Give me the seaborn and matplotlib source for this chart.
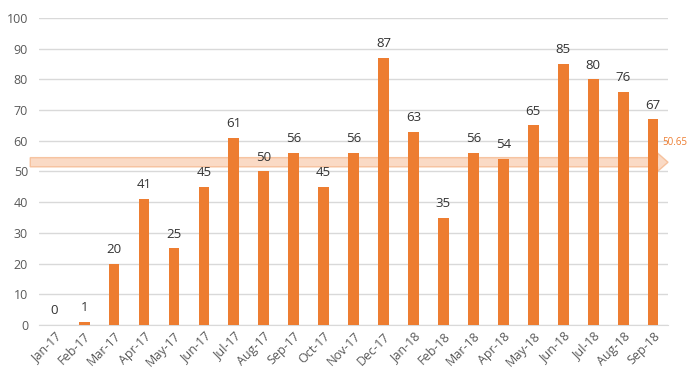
import matplotlib
matplotlib.use("Agg")
import matplotlib.pyplot as plt
from matplotlib.patches import FancyArrow
import seaborn as sns
import pandas as pd

months = ["Jan-17", "Feb-17", "Mar-17", "Apr-17", "May-17", "Jun-17", "Jul-17",
          "Aug-17", "Sep-17", "Oct-17", "Nov-17", "Dec-17", "Jan-18", "Feb-18",
          "Mar-18", "Apr-18", "May-18", "Jun-18", "Jul-18", "Aug-18", "Sep-18"]
values = [0, 1, 20, 41, 25, 45, 61, 50, 56, 45, 56, 87, 63, 35, 56, 54, 65, 85, 80, 76, 67]
average = 50.65

BAR_COLOR = "#ED7D31"
TEXT_COLOR = "#595959"

sns.set_style("white")
plt.rcParams["font.family"] = ["Open Sans", "DejaVu Sans"]

df = pd.DataFrame({"month": months, "value": values})

fig = plt.figure(figsize=(6.88, 3.81), dpi=100)
ax = fig.add_axes([0.057, 0.147, 0.914, 0.806])

sns.barplot(data=df, x="month", y="value", color=BAR_COLOR, width=0.36,
            saturation=1, linewidth=0, ax=ax, zorder=3)

# value labels
for i, v in enumerate(values):
    ax.text(i, v + 2.5, str(v), ha="center", va="bottom", fontsize=9.5,
            color="#333333", zorder=5)

# average arrow band
arrow = FancyArrow(-0.8, 53, 21.3, 0, width=3.0, head_width=6.0,
                   head_length=0.35, length_includes_head=True,
                   facecolor="#F8CBAD", edgecolor="#F4B183", alpha=0.7,
                   linewidth=1, zorder=2, clip_on=False)
ax.add_patch(arrow)
ax.text(20.3, 59.5, f"{average:.2f}", ha="left", va="center", fontsize=7,
        color=BAR_COLOR, clip_on=False)

ax.set_ylim(0, 100)
ax.set_xlim(-0.5, 20.5)
ax.set_yticks(range(0, 101, 10))
ax.yaxis.grid(True, color="#D9D9D9", linewidth=1, zorder=0)
ax.set_axisbelow(True)
ax.set_xlabel("")
ax.set_ylabel("")
for side in ["top", "right", "left"]:
    ax.spines[side].set_visible(False)
ax.spines["bottom"].set_color("#D9D9D9")
ax.tick_params(axis="both", length=0, colors=TEXT_COLOR, labelsize=9)
ax.tick_params(axis="y", pad=8)
plt.setp(ax.get_xticklabels(), rotation=45, ha="right", rotation_mode="anchor")

fig.savefig("out.png", dpi=100)
